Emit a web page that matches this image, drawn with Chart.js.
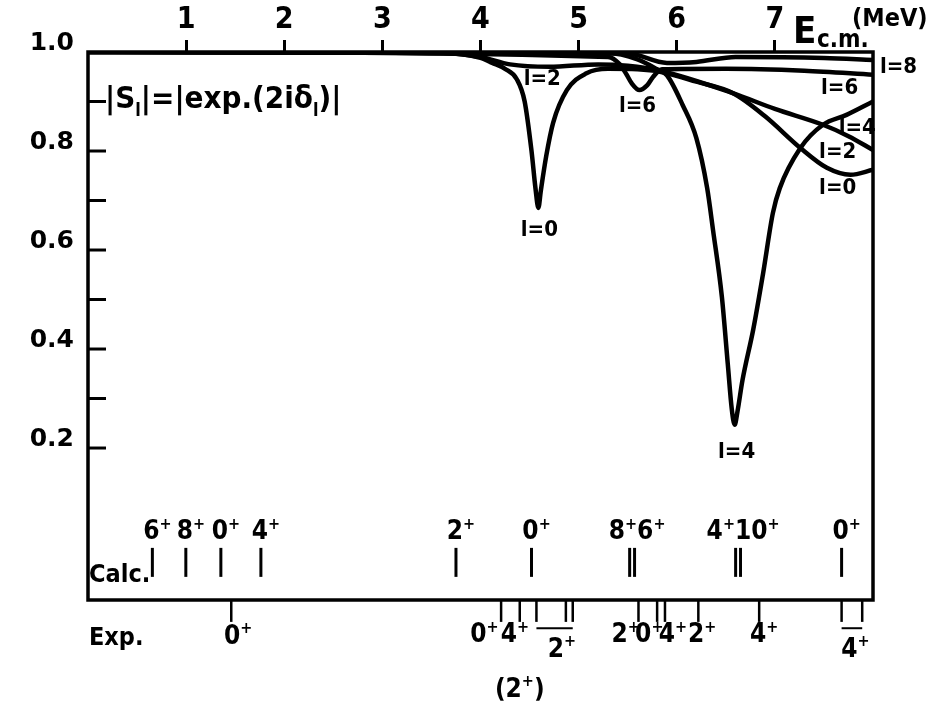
<!DOCTYPE html>
<html>
<head>
<meta charset="utf-8">
<script src="https://cdn.jsdelivr.net/npm/chart.js@4.4.0/dist/chart.umd.min.js"></script>
<style>
  html, body { margin: 0; padding: 0; background: #fff; }
  canvas { display: block; }
</style>
</head>
<body>
<canvas id="chart" width="945" height="709"></canvas>
<script>
// axis ticks
const xTicks = [1, 2, 3, 4, 5, 6, 7];
const yTicks = [0.2, 0.4, 0.6, 0.8, 1.0];
const yMinor = [0.2, 0.3, 0.4, 0.5, 0.6, 0.7, 0.8, 0.9];

// |S_l| vs E_cm (MeV)
const l0E = [0, 3.6, 4.0, 4.12, 4.25, 4.37, 4.45, 4.52, 4.56, 4.59, 4.615, 4.67, 4.74, 4.88, 5.08, 5.3, 5.6, 5.83, 6.2, 6.57, 6.9, 7.26, 7.53, 7.77, 8.0];
const l0S = [1.0, 0.998, 0.988, 0.978, 0.966, 0.945, 0.9, 0.8, 0.725, 0.685, 0.72, 0.79, 0.857, 0.923, 0.957, 0.966, 0.965, 0.96, 0.94, 0.917, 0.87, 0.806, 0.766, 0.752, 0.762];

const l2E = [0, 3.5, 4.0, 4.3, 4.7, 5.2, 5.5, 5.83, 6.57, 7.0, 7.49, 7.75, 8.0];
const l2S = [1.0, 0.999, 0.99, 0.975, 0.97, 0.975, 0.972, 0.962, 0.917, 0.885, 0.853, 0.83, 0.802];

const l4E = [0, 5.3, 5.6, 5.8, 5.9, 6.06, 6.2, 6.31, 6.37, 6.46, 6.52, 6.56, 6.59, 6.62, 6.67, 6.78, 6.88, 6.98, 7.05, 7.26, 7.49, 7.73, 8.0];
const l4S = [1.0, 0.998, 0.985, 0.965, 0.953, 0.893, 0.826, 0.725, 0.64, 0.505, 0.37, 0.28, 0.247, 0.275, 0.337, 0.44, 0.553, 0.675, 0.725, 0.806, 0.853, 0.873, 0.9];

const l6E = [0, 5.3, 5.42, 5.49, 5.54, 5.62, 5.7, 5.76, 5.85, 6.5, 7.3, 8.0];
const l6S = [1.0, 0.99, 0.975, 0.954, 0.937, 0.923, 0.933, 0.95, 0.965, 0.966, 0.962, 0.954];

const l8E = [0, 5.5, 5.9, 6.2, 6.6, 7.5, 8.0];
const l8S = [1.0, 0.997, 0.978, 0.98, 0.99, 0.988, 0.984];

// calculated levels (inside the frame) and experimental levels (below it)
const calcE = [0.656, 0.997, 1.354, 1.762, 3.75, 4.52, 5.52, 5.57, 6.60, 6.65, 7.68];
const calcLabelE = [0.656, 0.997, 1.354, 1.762, 3.75, 4.52, 5.545, 6.625, 7.68];
const calcLabels = ['6+', '8+', '0+', '4+', '2+', '0+', '8+6+', '4+10+', '0+'];

const expE = [1.46, 4.21, 4.40, 4.57, 4.87, 4.94, 5.61, 5.80, 5.88, 6.22, 6.84, 7.68, 7.89];
const expLabelE = [1.53, 4.04, 4.35, 4.83, 4.40, 5.48, 5.72, 5.96, 6.26, 6.89, 7.82];
const expLabelS = [-0.182, -0.178, -0.178, -0.208, -0.289, -0.178, -0.178, -0.178, -0.178, -0.178, -0.208];
const expLabels = ['0+', '0+', '4+', '2+', '(2+)', '2+', '0+', '4+', '2+', '4+', '4+'];
const expBars = [[4.57, 4.94], [7.68, 7.89]];

const curveLabels = ['l=0', 'l=2', 'l=6', 'l=4', 'l=8', 'l=6', 'l=4', 'l=2', 'l=0'];
const curveLabelE = [4.60, 4.63, 5.60, 6.61, 8.26, 7.66, 7.84, 7.64, 7.64];
const curveLabelS = [0.640, 0.945, 0.891, 0.192, 0.970, 0.927, 0.846, 0.798, 0.725];

const yMin = -0.107;
const calcY = -0.031;
const expY = -0.129;
const barY = -0.164;
const calcLabelY = 0.030;

const COND = '"DejaVu Sans Condensed", "Liberation Sans Narrow", "DejaVu Sans", sans-serif';
const pts = (E, S) => E.map((e, i) => ({ x: e, y: S[i] }));

function curve(E, S) {
  return {
    data: pts(E, S),
    borderColor: '#000',
    borderWidth: 4.5,
    pointRadius: 0,
    cubicInterpolationMode: 'monotone',
    fill: false
  };
}

// text with '+' raised and smaller, centred at x
function drawLevel(ctx, txt, x, y, size) {
  const big = 'bold ' + size + 'px ' + COND;
  const small = 'bold ' + Math.round(size * 0.62) + 'px ' + COND;
  let w = 0;
  for (const ch of txt) {
    ctx.font = ch === '+' ? small : big;
    w += ctx.measureText(ch).width;
  }
  let cx = x - w / 2;
  ctx.textAlign = 'left';
  ctx.textBaseline = 'middle';
  for (const ch of txt) {
    if (ch === '+') {
      ctx.font = small;
      ctx.fillText(ch, cx, y - size * 0.3);
    } else {
      ctx.font = big;
      ctx.fillText(ch, cx, y);
    }
    cx += ctx.measureText(ch).width;
  }
}

const decor = {
  id: 'decor',
  afterDraw(chart) {
    const ctx = chart.ctx;
    const a = chart.chartArea;
    const xs = chart.scales.x, ys = chart.scales.y;
    ctx.save();
    ctx.strokeStyle = '#000';
    ctx.fillStyle = '#000';
    ctx.lineWidth = 3.5;
    ctx.strokeRect(a.left, a.top, a.right - a.left, a.bottom - a.top);

    // inward ticks on the left axis
    ctx.lineWidth = 3;
    yMinor.forEach(v => {
      const py = ys.getPixelForValue(v);
      ctx.beginPath();
      ctx.moveTo(a.left, py);
      ctx.lineTo(a.left + 18, py);
      ctx.stroke();
    });

    // level labels
    calcLabels.forEach((t, i) => {
      drawLevel(ctx, t, xs.getPixelForValue(calcLabelE[i]) + 5, ys.getPixelForValue(calcLabelY), 26);
    });
    expLabels.forEach((t, i) => {
      drawLevel(ctx, t, xs.getPixelForValue(expLabelE[i]), ys.getPixelForValue(expLabelS[i]), 26);
    });

    // curve labels
    ctx.font = 'bold 22px ' + COND;
    ctx.textAlign = 'center';
    ctx.textBaseline = 'middle';
    curveLabels.forEach((t, i) => {
      ctx.fillText(t, xs.getPixelForValue(curveLabelE[i]), ys.getPixelForValue(curveLabelS[i]));
    });

    ctx.textAlign = 'left';
    ctx.font = 'bold 25px ' + COND;
    ctx.fillText('Calc.', a.left + 1, a.bottom - 25);
    ctx.fillText('Exp.', a.left + 1, a.bottom + 38);

    // |S_l| = |exp(2i delta_l)|
    ctx.textBaseline = 'alphabetic';
    let x = a.left + 17;
    const base = a.top + 56;
    const seg = [['|S', 31, 0], ['l', 18, 8], ['|=|exp.(2iδ', 31, 0], ['l', 18, 8], [')|', 31, 0]];
    seg.forEach(([t, s, dy]) => {
      ctx.font = 'bold ' + s + 'px ' + COND;
      ctx.fillText(t, x, base + dy);
      x += ctx.measureText(t).width;
    });

    // axis title
    ctx.font = 'bold 38px ' + COND;
    ctx.fillText('E', a.right - 80, 43);
    ctx.font = 'bold 24px ' + COND;
    ctx.fillText('c.m.', a.right - 56, 47);
    ctx.font = 'bold 25px ' + COND;
    ctx.fillText('(MeV)', a.right - 21, 26);
    ctx.restore();
  }
};

new Chart(document.getElementById('chart'), {
  type: 'line',
  data: {
    datasets: [
      curve(l0E, l0S),
      curve(l2E, l2S),
      curve(l4E, l4S),
      curve(l6E, l6S),
      curve(l8E, l8S),
      {
        data: calcE.map(e => ({ x: e, y: calcY })),
        showLine: false,
        pointStyle: 'line',
        pointRotation: 90,
        pointRadius: 14.5,
        pointBorderWidth: 3,
        pointBorderColor: '#000'
      },
      {
        data: expE.map(e => ({ x: e, y: expY })),
        showLine: false,
        pointStyle: 'line',
        pointRotation: 90,
        pointRadius: 11,
        pointBorderWidth: 2.5,
        pointBorderColor: '#000',
        clip: false
      },
      ...expBars.map(b => ({
        data: b.map(e => ({ x: e, y: barY })),
        borderColor: '#000',
        borderWidth: 2,
        pointRadius: 0,
        clip: false
      }))
    ]
  },
  options: {
    responsive: false,
    animation: false,
    layout: { padding: { left: 0, top: 0, right: 72, bottom: 109 } },
    plugins: { legend: { display: false }, tooltip: { enabled: false } },
    scales: {
      x: {
        type: 'linear',
        position: 'top',
        min: 0,
        max: 8,
        afterBuildTicks: s => { s.ticks = xTicks.map(v => ({ value: v })); },
        afterFit: s => { s.height = 52; },
        grid: { drawOnChartArea: false, tickLength: 12, lineWidth: 3, color: '#000' },
        border: { display: false },
        ticks: {
          autoSkip: false, maxRotation: 0, padding: 2, color: '#000',
          font: { family: COND, size: 30, weight: 'bold' }
        }
      },
      y: {
        min: yMin,
        max: 1.0,
        afterBuildTicks: s => { s.ticks = yTicks.map(v => ({ value: v })); },
        afterFit: s => { s.width = 88; },
        grid: { display: false, drawTicks: false },
        border: { display: false },
        ticks: {
          padding: 14, labelOffset: -9, color: '#000',
          font: { family: '"DejaVu Sans", sans-serif', size: 25, weight: 'bold' },
          callback: v => v.toFixed(1)
        }
      }
    }
  },
  plugins: [decor]
});
</script>
</body>
</html>
